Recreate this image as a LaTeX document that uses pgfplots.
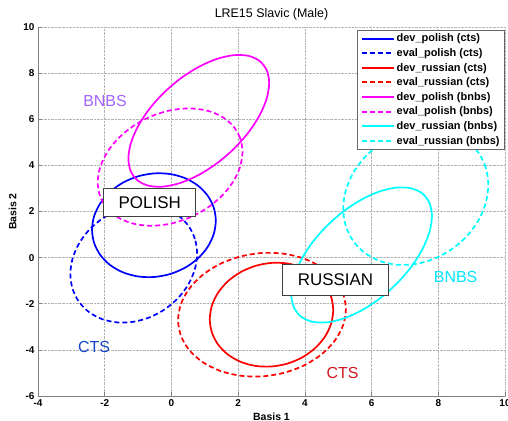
\documentclass[border=0pt]{standalone}
\usepackage{fontspec}
\setmainfont{Liberation Sans}
\usepackage{pgfplots}
\pgfplotsset{compat=1.18}
\definecolor{lblviolet}{RGB}{160,100,255}
\definecolor{lblblue}{RGB}{20,70,200}
\definecolor{lblred}{RGB}{210,20,30}
\definecolor{lblcyan}{RGB}{0,230,255}
\definecolor{mblue}{RGB}{0,0,255}
\definecolor{mred}{RGB}{255,0,0}
\definecolor{mmag}{RGB}{255,0,255}
\definecolor{mcyan}{RGB}{0,255,255}
\begin{document}
\begin{tikzpicture}
\begin{axis}[
  scale only axis, width=467bp, height=369bp,
  xmin=-4, xmax=10, ymin=-6, ymax=10,
  xtick={-4,-2,...,10}, ytick={-6,-4,...,10},
  axis x line*=bottom, axis y line*=left,
  axis line style={black!50, line width=0.8bp, -},
  tick style={black!50, line width=0.6bp},
  tick align=inside,
  major tick length=4bp,
  grid=major,
  grid style={densely dotted, black!30, line width=0.5bp},
  /pgf/number format/assume math mode=true,
  ticklabel style={font=\bfseries\fontsize{10}{12}\selectfont},
  xlabel={Basis 1}, ylabel={Basis 2},
  label style={font=\bfseries\fontsize{10.5}{12}\selectfont},
  title={LRE15 Slavic (Male)},
  title style={font=\fontsize{12.5}{14}\selectfont, yshift=-3bp},
  legend style={at={(1,0.992)}, anchor=north east, draw=black!60, line width=0.8bp, fill=white,
    font=\bfseries\fontsize{11}{13}\selectfont, inner xsep=3bp, inner ysep=1.5bp, row sep=1.2bp},
  legend cell align=left,
  legend image code/.code={\draw[#1, line width=2bp] (0bp,0bp) -- (32bp,0bp);},
  every axis plot/.append style={line width=1.7bp},
]
% dev_polish (cts)
\addplot[mblue, smooth cycle] coordinates {
(1.330,1.602) (1.267,2.176) (1.081,2.698) (0.787,3.132) (0.403,3.449) (-0.045,3.626) (-0.525,3.651) (-1.005,3.524) (-1.453,3.252) (-1.837,2.855) (-2.131,2.358) (-2.317,1.796)
(-2.380,1.208) (-2.317,0.634) (-2.131,0.112) (-1.837,-0.322) (-1.453,-0.639) (-1.005,-0.816) (-0.525,-0.841) (-0.045,-0.714) (0.403,-0.442) (0.787,-0.045) (1.081,0.452) (1.267,1.014)};
\addlegendentry{dev\_polish (cts)}
% eval_polish (cts)
\addplot[mblue, dash pattern=on 5bp off 3bp, smooth cycle] coordinates {
(0.770,0.173) (0.705,0.808) (0.515,1.369) (0.213,1.819) (-0.180,2.126) (-0.638,2.270) (-1.130,2.241) (-1.622,2.041) (-2.080,1.683) (-2.473,1.193) (-2.775,0.602) (-2.965,-0.048)
(-3.030,-0.713) (-2.965,-1.348) (-2.775,-1.909) (-2.473,-2.359) (-2.080,-2.666) (-1.622,-2.810) (-1.130,-2.781) (-0.638,-2.581) (-0.180,-2.223) (0.213,-1.733) (0.515,-1.142) (0.705,-0.492)};
\addlegendentry{eval\_polish (cts)}
% dev_russian (cts)
\addplot[mred, smooth cycle] coordinates {
(4.850,-2.278) (4.787,-1.704) (4.602,-1.182) (4.308,-0.748) (3.925,-0.431) (3.479,-0.254) (3.000,-0.229) (2.521,-0.356) (2.075,-0.628) (1.692,-1.025) (1.398,-1.522) (1.213,-2.084)
(1.150,-2.672) (1.213,-3.246) (1.398,-3.768) (1.692,-4.202) (2.075,-4.519) (2.521,-4.696) (3.000,-4.721) (3.479,-4.594) (3.925,-4.322) (4.308,-3.925) (4.602,-3.428) (4.787,-2.866)};
\addlegendentry{dev\_russian (cts)}
% eval_russian (cts)
\addplot[mred, dash pattern=on 5bp off 3bp, smooth cycle] coordinates {
(5.230,-2.241) (5.144,-1.557) (4.893,-0.935) (4.493,-0.418) (3.973,-0.042) (3.366,0.169) (2.715,0.200) (2.064,0.048) (1.457,-0.275) (0.937,-0.749) (0.537,-1.340) (0.286,-2.009)
(0.200,-2.709) (0.286,-3.393) (0.537,-4.015) (0.937,-4.532) (1.457,-4.908) (2.064,-5.119) (2.715,-5.150) (3.366,-4.998) (3.973,-4.675) (4.493,-4.201) (4.893,-3.610) (5.144,-2.941)};
\addlegendentry{eval\_russian (cts)}
% dev_polish (bnbs)
\addplot[mmag, smooth cycle] coordinates {
(2.930,7.570) (2.858,8.121) (2.647,8.522) (2.312,8.747) (1.875,8.779) (1.366,8.618) (0.820,8.273) (0.274,7.768) (-0.235,7.139) (-0.672,6.426) (-1.007,5.681) (-1.218,4.952)
(-1.290,4.290) (-1.218,3.739) (-1.007,3.338) (-0.672,3.113) (-0.235,3.081) (0.274,3.242) (0.820,3.587) (1.366,4.092) (1.875,4.721) (2.312,5.434) (2.647,6.179) (2.858,6.908)};
\addlegendentry{dev\_polish (bnbs)}
% eval_polish (bnbs)
\addplot[mmag, dash pattern=on 5bp off 3bp, smooth cycle] coordinates {
(2.130,4.584) (2.056,5.198) (1.839,5.725) (1.494,6.129) (1.045,6.383) (0.522,6.470) (-0.040,6.383) (-0.602,6.129) (-1.125,5.725) (-1.574,5.198) (-1.919,4.584) (-2.136,3.925)
(-2.210,3.266) (-2.136,2.652) (-1.919,2.125) (-1.574,1.721) (-1.125,1.467) (-0.602,1.380) (-0.040,1.467) (0.522,1.721) (1.045,2.125) (1.494,2.652) (1.839,3.266) (2.056,3.925)};
\addlegendentry{eval\_polish (bnbs)}
% dev_russian (bnbs)
\addplot[mcyan, smooth cycle] coordinates {
(7.810,1.799) (7.738,2.363) (7.527,2.775) (7.192,3.005) (6.755,3.039) (6.246,2.873) (5.700,2.519) (5.154,2.002) (4.645,1.355) (4.208,0.625) (3.873,-0.141) (3.662,-0.889)
(3.590,-1.569) (3.662,-2.133) (3.873,-2.545) (4.208,-2.775) (4.645,-2.809) (5.154,-2.643) (5.700,-2.289) (6.246,-1.772) (6.755,-1.125) (7.192,-0.395) (7.527,0.371) (7.738,1.119)};
\addlegendentry{dev\_russian (bnbs)}
% eval_russian (bnbs)
\addplot[mcyan, dash pattern=on 5bp off 3bp, smooth cycle] coordinates {
(9.500,3.154) (9.426,3.891) (9.209,4.543) (8.863,5.065) (8.413,5.422) (7.888,5.589) (7.325,5.555) (6.762,5.323) (6.237,4.907) (5.787,4.338) (5.441,3.652) (5.224,2.898)
(5.150,2.126) (5.224,1.389) (5.441,0.737) (5.787,0.215) (6.237,-0.142) (6.762,-0.309) (7.325,-0.275) (7.888,-0.043) (8.413,0.373) (8.863,0.942) (9.209,1.628) (9.426,2.382)};
\addlegendentry{eval\_russian (bnbs)}

\node[text=lblviolet, font=\fontsize{16}{18}\selectfont] at (axis cs:-1.99,6.78) {BNBS};
\node[text=lblblue, font=\fontsize{16}{18}\selectfont] at (axis cs:-2.32,-3.89) {CTS};
\node[text=lblred, font=\fontsize{16}{18}\selectfont] at (axis cs:5.13,-5.0) {CTS};
\node[text=lblcyan, font=\fontsize{16}{18}\selectfont] at (axis cs:8.52,-0.85) {BNBS};
\node[draw=black!75, line width=1bp, fill=white, inner xsep=15bp, minimum height=28bp,
  font=\fontsize{17}{19}\selectfont] at (axis cs:-0.65,2.39) {POLISH};
\node[draw=black!75, line width=1bp, fill=white, inner xsep=15bp, minimum height=31bp,
  font=\fontsize{17}{19}\selectfont] at (axis cs:4.92,-0.96) {RUSSIAN};
\end{axis}
\pgfresetboundingbox
\path[use as bounding box] ([shift={(-38bp,-25bp)}]current axis.south west) rectangle ([shift={(3bp,27bp)}]current axis.north east);
\end{tikzpicture}
\end{document}
